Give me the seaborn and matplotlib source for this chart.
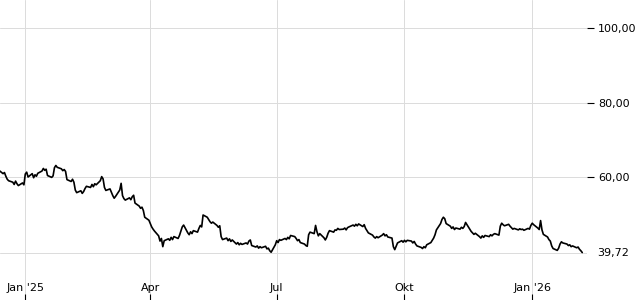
import matplotlib
matplotlib.use("Agg")
import matplotlib.pyplot as plt
import seaborn as sns
import pandas as pd

# daily closing prices (business days)
prices = [
    61.5, 61.0, 61.8, 60.9, 61.2,
    60.2, 59.4, 59.0,
    58.6, 58.0, 58.9, 58.2, 57.7, 58.4, 57.9,
    60.8, 61.3,
    60.0, 60.9, 59.8, 60.6, 60.2, 61.0,
    61.6, 62.3, 61.8, 62.1,
    60.4, 59.9, 60.3,
    62.5, 63.1, 62.6,
    62.2, 61.7, 62.0, 61.5,
    59.3, 58.8, 59.4, 58.6,
    56.5, 55.8, 56.3, 55.6, 56.1,
    56.9, 57.5, 57.2, 58.0, 57.4, 58.2, 57.9,
    59.0, 60.1, 59.5,
    57.2, 56.4, 56.8, 55.9,
    55.0, 54.3, 54.8,
    56.5, 58.3,
    55.0, 54.2, 53.8, 54.4, 53.9,
    54.7, 55.1,
    53.0, 52.2, 51.6, 51.9, 51.0,
    49.2, 48.4,
    47.5, 46.6, 46.0, 45.5,
    44.2, 42.8, 43.5, 41.3, 42.9, 43.4,
    43.0, 43.8, 43.2, 44.0, 43.5, 44.3,
    45.5, 46.6, 47.1,
    45.0, 44.5, 45.3, 44.8, 45.6, 45.2,
    46.2, 47.0, 46.6,
    49.8, 49.2,
    48.6, 48.0, 47.6, 47.9, 47.0, 46.5, 46.9,
    44.0, 43.2, 43.6, 42.9, 43.4, 42.7, 43.1,
    42.0, 42.4, 41.8, 42.2, 41.9, 42.3, 42.0,
    42.8, 43.1,
    41.6, 41.2, 41.5, 40.9, 41.3, 41.0, 41.4, 40.7, 40.9, 40.2, 39.8,
    41.8, 42.9, 42.4, 43.2,
    43.0, 43.5, 43.2, 43.8, 43.4, 44.3, 44.0,
    43.5, 42.9, 43.2, 42.4, 42.0, 41.6, 41.4,
    44.5, 45.2, 44.8, 47.0,
    45.3, 44.2, 44.8, 43.7, 43.1, 43.8,
    44.9, 45.6, 45.2, 45.8,
    45.7, 46.2, 45.9, 46.0, 46.3, 45.8, 46.4,
    46.6, 47.1, 46.8, 47.3, 46.9, 47.4, 46.7, 47.2,
    46.2, 45.6, 45.0, 44.4, 43.9, 43.6,
    44.0, 43.7, 44.4, 44.8, 44.2,
    44.5, 43.9, 43.6,
    41.3, 40.5, 41.4,
    42.3, 42.9, 42.5, 43.0,
    42.6, 43.0, 42.8, 42.3, 42.7,
    42.0, 41.5, 41.1, 40.8, 41.3, 41.0,
    41.8, 42.4, 43.0, 43.6, 44.5, 45.8,
    47.5, 48.6, 49.2, 48.8,
    47.5, 46.8, 46.2, 46.6, 45.9, 46.3,
    46.0, 46.5, 46.2, 46.7,
    47.8,
    46.0, 45.4, 45.0, 44.6, 44.9,
    44.0, 43.6, 44.2, 43.8, 44.3, 44.0, 44.5, 44.2, 44.6, 44.8, 44.4,
    46.8, 47.6, 47.2,
    46.9, 47.3, 46.8,
    46.4, 46.0, 46.2, 45.8, 46.1, 45.9, 46.0, 45.7, 46.2, 46.0,
    47.0, 47.6, 47.2,
    46.3, 45.9,
    48.3,
    45.8, 44.6, 43.9, 43.2, 42.8,
    41.5, 40.8, 40.3, 40.9,
    42.0, 42.6, 42.3,
    42.0, 41.6, 41.8, 41.3, 41.5, 41.0, 41.2, 40.6,
    40.2, 39.72,
]
end_date = "2026-02-06"

tick_dates = ["2025-01-01", "2025-04-01", "2025-07-01", "2025-10-01", "2026-01-01"]
tick_labels = ["Jan '25", "Apr", "Jul", "Okt", "Jan '26"]
y_ticks = [60, 80, 100]
y_limits = (26.98, 107.52)
x_limits = ("2024-12-13 19:00", "2026-02-09 10:00")


def fmt(v):
    return f"{v:.2f}".replace(".", ",")


sns.set_style("white")
plt.rcParams["font.family"] = ["DejaVu Sans"]

dates = pd.bdate_range(end=end_date, periods=len(prices))
df = pd.DataFrame({"date": dates, "price": prices})

fig = plt.figure(figsize=(6.4, 3.0), dpi=100)
ax = fig.add_axes([0, 0, 587 / 640, 1])

grid_color = "#dcdcdc"
sns.lineplot(data=df, x="date", y="price", color="black", linewidth=1.2, ax=ax, zorder=3)

ax.set_xlim(pd.Timestamp(x_limits[0]), pd.Timestamp(x_limits[1]))
ax.set_ylim(*y_limits)

ax.set_xticks(pd.to_datetime(tick_dates))
ax.set_xticklabels(tick_labels)
ax.set_yticks(y_ticks)
ax.set_yticklabels([fmt(v) for v in y_ticks])

ax.grid(True, color=grid_color, linewidth=0.72)
ax.set_axisbelow(True)
ax.axhline(prices[-1], color=grid_color, linewidth=0.72, zorder=1)

ax.yaxis.tick_right()
ax.xaxis.set_ticks_position("bottom")
ax.tick_params(axis="y", direction="out", length=5, width=0.8, color="black",
               pad=3, labelsize=8, labelcolor="black")
ax.tick_params(axis="x", direction="in", length=4, width=0.8, color="black",
               pad=-12.5, labelsize=8, labelcolor="black")

ax.annotate(fmt(prices[-1]), xy=(1, prices[-1]),
            xycoords=("axes fraction", "data"),
            xytext=(10, 0), textcoords="offset pixels",
            ha="left", va="center", fontsize=8, color="black",
            annotation_clip=False)

for s in ax.spines.values():
    s.set_visible(False)
ax.set_xlabel("")
ax.set_ylabel("")

fig.savefig("out.png", dpi=100)
